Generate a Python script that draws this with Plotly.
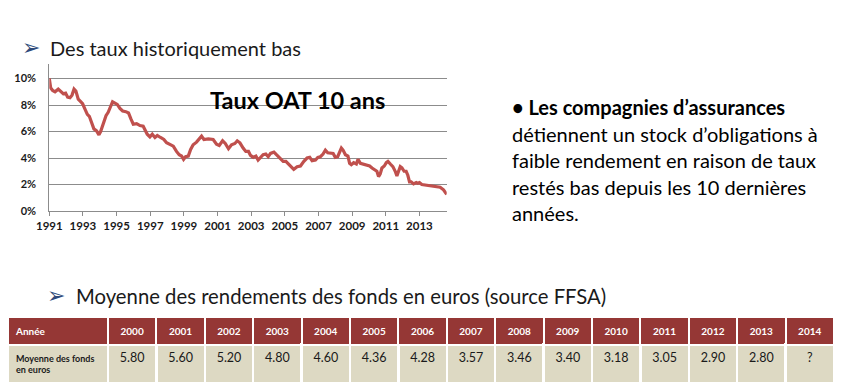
import plotly.graph_objects as go

# ---------------- data ----------------
oat_years = [1991.00, 1991.08, 1991.20, 1991.34, 1991.53, 1991.69, 1991.83, 1991.97,
             1992.09, 1992.23, 1992.35, 1992.47, 1992.58, 1992.72, 1992.86, 1992.98,
             1993.12, 1993.26, 1993.38, 1993.51, 1993.65, 1993.81, 1993.95, 1994.05,
             1994.21, 1994.37, 1994.50, 1994.62, 1994.76, 1994.90, 1995.04, 1995.20,
             1995.36, 1995.55, 1995.71, 1995.85, 1995.99, 1996.19, 1996.39, 1996.58,
             1996.70, 1996.82, 1996.98, 1997.12, 1997.28, 1997.42, 1997.61, 1997.81,
             1997.97, 1998.17, 1998.37, 1998.56, 1998.72, 1998.86, 1998.98, 1999.10,
             1999.26, 1999.40, 1999.55, 1999.75, 1999.91, 2000.05, 2000.19, 2000.45,
             2000.74, 2000.94, 2001.10, 2001.30, 2001.46, 2001.65, 2001.83, 2002.03,
             2002.17, 2002.33, 2002.52, 2002.68, 2002.84, 2002.96, 2003.12, 2003.28,
             2003.41, 2003.55, 2003.71, 2003.87, 2004.01, 2004.15, 2004.35, 2004.50,
             2004.70, 2004.90, 2005.06, 2005.34, 2005.53, 2005.73, 2005.93, 2006.13,
             2006.32, 2006.48, 2006.62, 2006.82, 2006.96, 2007.11, 2007.27, 2007.41,
             2007.55, 2007.87, 2008.00, 2008.14, 2008.26, 2008.36, 2008.46, 2008.60,
             2008.75, 2008.85, 2008.95, 2009.09, 2009.25, 2009.35, 2009.49, 2009.68,
             2009.88, 2010.04, 2010.18, 2010.34, 2010.47, 2010.57, 2010.67, 2010.77,
             2010.91, 2011.03, 2011.13, 2011.27, 2011.42, 2011.56, 2011.66, 2011.76,
             2011.86, 2011.96, 2012.09, 2012.21, 2012.31, 2012.41, 2012.51, 2012.65,
             2012.81, 2012.90, 2013.00, 2013.14, 2013.44, 2013.83, 2014.23, 2014.43,
             2014.62]
oat_rates = [10.0, 9.3, 9.1, 9.0, 9.2, 9.0, 8.85, 8.9,
             8.6, 8.55, 8.75, 9.2, 9.05, 8.45, 8.3, 8.1,
             7.7, 7.3, 7.15, 6.6, 6.2, 6.05, 5.75, 6.0,
             6.55, 7.2, 7.45, 7.9, 8.25, 8.15, 8.05, 7.75,
             7.55, 7.5, 7.4, 6.95, 6.55, 6.6, 6.45, 6.4,
             6.1, 5.8, 5.6, 5.8, 5.55, 5.7, 5.55, 5.4,
             5.15, 5.0, 4.9, 4.5, 4.25, 4.15, 3.9, 4.1,
             4.15, 4.65, 5.0, 5.2, 5.4, 5.65, 5.4, 5.45,
             5.4, 5.05, 4.95, 5.3, 5.1, 4.7, 5.0, 5.1,
             5.3, 5.15, 4.75, 4.5, 4.5, 4.2, 4.05, 4.15,
             3.85, 4.05, 4.25, 4.3, 4.1, 4.35, 4.45, 4.25,
             4.0, 3.75, 3.75, 3.35, 3.15, 3.35, 3.4, 3.75,
             4.0, 4.05, 3.8, 3.85, 4.05, 4.1, 4.3, 4.6,
             4.4, 4.35, 4.05, 4.1, 4.4, 4.75, 4.6, 4.25,
             4.15, 3.6, 3.5, 3.65, 3.55, 3.9, 3.6, 3.55,
             3.5, 3.4, 3.25, 3.1, 3.0, 2.6, 2.8, 3.25,
             3.4, 3.65, 3.75, 3.55, 3.35, 3.0, 2.65, 3.0,
             3.35, 3.25, 3.0, 3.0, 2.7, 2.2, 2.2, 2.05,
             2.15, 2.1, 2.15, 2.0, 1.95, 1.9, 1.8, 1.6,
             1.25]

x_tick_years = [1991, 1993, 1995, 1997, 1999, 2001, 2003, 2005, 2007, 2009, 2011, 2013]
y_tick_values = [0, 2, 4, 6, 8, 10]
y_tick_labels = ["0%", "2%", "4%", "6%", "8%", "10%"]

table_years = ["2000", "2001", "2002", "2003", "2004", "2005", "2006", "2007",
               "2008", "2009", "2010", "2011", "2012", "2013", "2014"]
table_returns = ["5.80", "5.60", "5.20", "4.80", "4.60", "4.36", "4.28", "3.57",
                 "3.46", "3.40", "3.18", "3.05", "2.90", "2.80", "?"]

# ---------------- figure ----------------
W, H = 842, 385
FONT = "Lato"
OFF = 8  # page body margin in the browser

def px(x):
    return min(1.0, max(0.0, (x - OFF) / W))

def py(y):
    return min(1.0, max(0.0, 1 - (y - OFF) / H))

fig = go.Figure()

fig.add_trace(go.Scatter(
    x=oat_years, y=oat_rates, mode="lines",
    line=dict(color="#C0504D", width=3.2),
    showlegend=False, hoverinfo="skip",
))

fig.add_trace(go.Table(
    domain=dict(x=[px(6), px(834)], y=[0, py(316.5)]),
    columnwidth=[100] + [48.4] * len(table_years),
    header=dict(
        values=["<b>Année</b>"] + ["<b>%s</b>" % y for y in table_years],
        fill_color="#953735",
        line=dict(color="white", width=2),
        font=dict(family=FONT, size=10, color="white"),
        align=["left"] + ["center"] * len(table_years),
        height=16,
    ),
    cells=dict(
        values=[["<b>Moyenne des fonds<br>en euros</b>"]] + [[v] for v in table_returns],
        fill_color="#DDD9C3",
        line=dict(color="white", width=2.5),
        font=dict(family=FONT, size=[9] + [12.5] * len(table_returns), color="#1a1a1a"),
        align=["left"] + ["center"] * len(table_returns),
        height=27,
    ),
))

fig.update_layout(
    width=W, height=H,
    margin=dict(l=0, r=0, t=0, b=0),
    paper_bgcolor="white", plot_bgcolor="white",
    font=dict(family=FONT, color="#1a1a1a"),
    xaxis=dict(
        domain=[px(49.3), px(446.7)],
        range=[1991, 2014.62],
        tickvals=x_tick_years,
        ticktext=[str(y) for y in x_tick_years],
        ticks="outside", ticklen=4, tickcolor="#8c8c8c",
        showgrid=False, zeroline=False, automargin=False,
        showline=True, linecolor="#8c8c8c", linewidth=1,
        tickfont=dict(family=FONT, size=11.5, color="#1a1a1a", weight="bold"),
    ),
    yaxis=dict(
        domain=[py(211), py(64)],
        range=[0, 11.1],
        tickvals=y_tick_values,
        ticktext=y_tick_labels,
        showgrid=True, gridcolor="#8c8c8c", gridwidth=1,
        zeroline=False, automargin=False,
        showline=True, linecolor="#8c8c8c", linewidth=1,
        ticks="", ticklabelstandoff=10,
        tickfont=dict(family=FONT, size=11, color="#1a1a1a", weight="bold"),
    ),
)

def text(x, y, s, size, bold=False, color="#1a1a1a", family=FONT):
    fig.add_annotation(
        x=px(x), y=py(y), xref="paper", yref="paper",
        xanchor="left", yanchor="middle", showarrow=False,
        text=("<b>%s</b>" % s) if bold else s,
        font=dict(family=family, size=size, color=color),
    )

ARROW = "#2E4A7A"
text(20, 47, "➢", 22, color=ARROW, family="DejaVu Sans")
text(48, 48, "Des taux historiquement bas", 20)
text(208, 100, "Taux OAT 10 ans", 23.5, bold=True, color="black")

lines = [
    ("• Les compagnies d’assurances", True),
    ("détiennent un stock d’obligations à", False),
    ("faible rendement en raison de taux", False),
    ("restés bas depuis les 10 dernières", False),
    ("années.", False),
]
for i, (s, b) in enumerate(lines):
    text(510, 107 + i * 26.5, s, 20, bold=b, color="black")

text(45, 295, "➢", 22, color=ARROW, family="DejaVu Sans")
text(74, 296, "Moyenne des rendements des fonds en euros (source FFSA)", 20.3)

fig.write_html("out.html")
